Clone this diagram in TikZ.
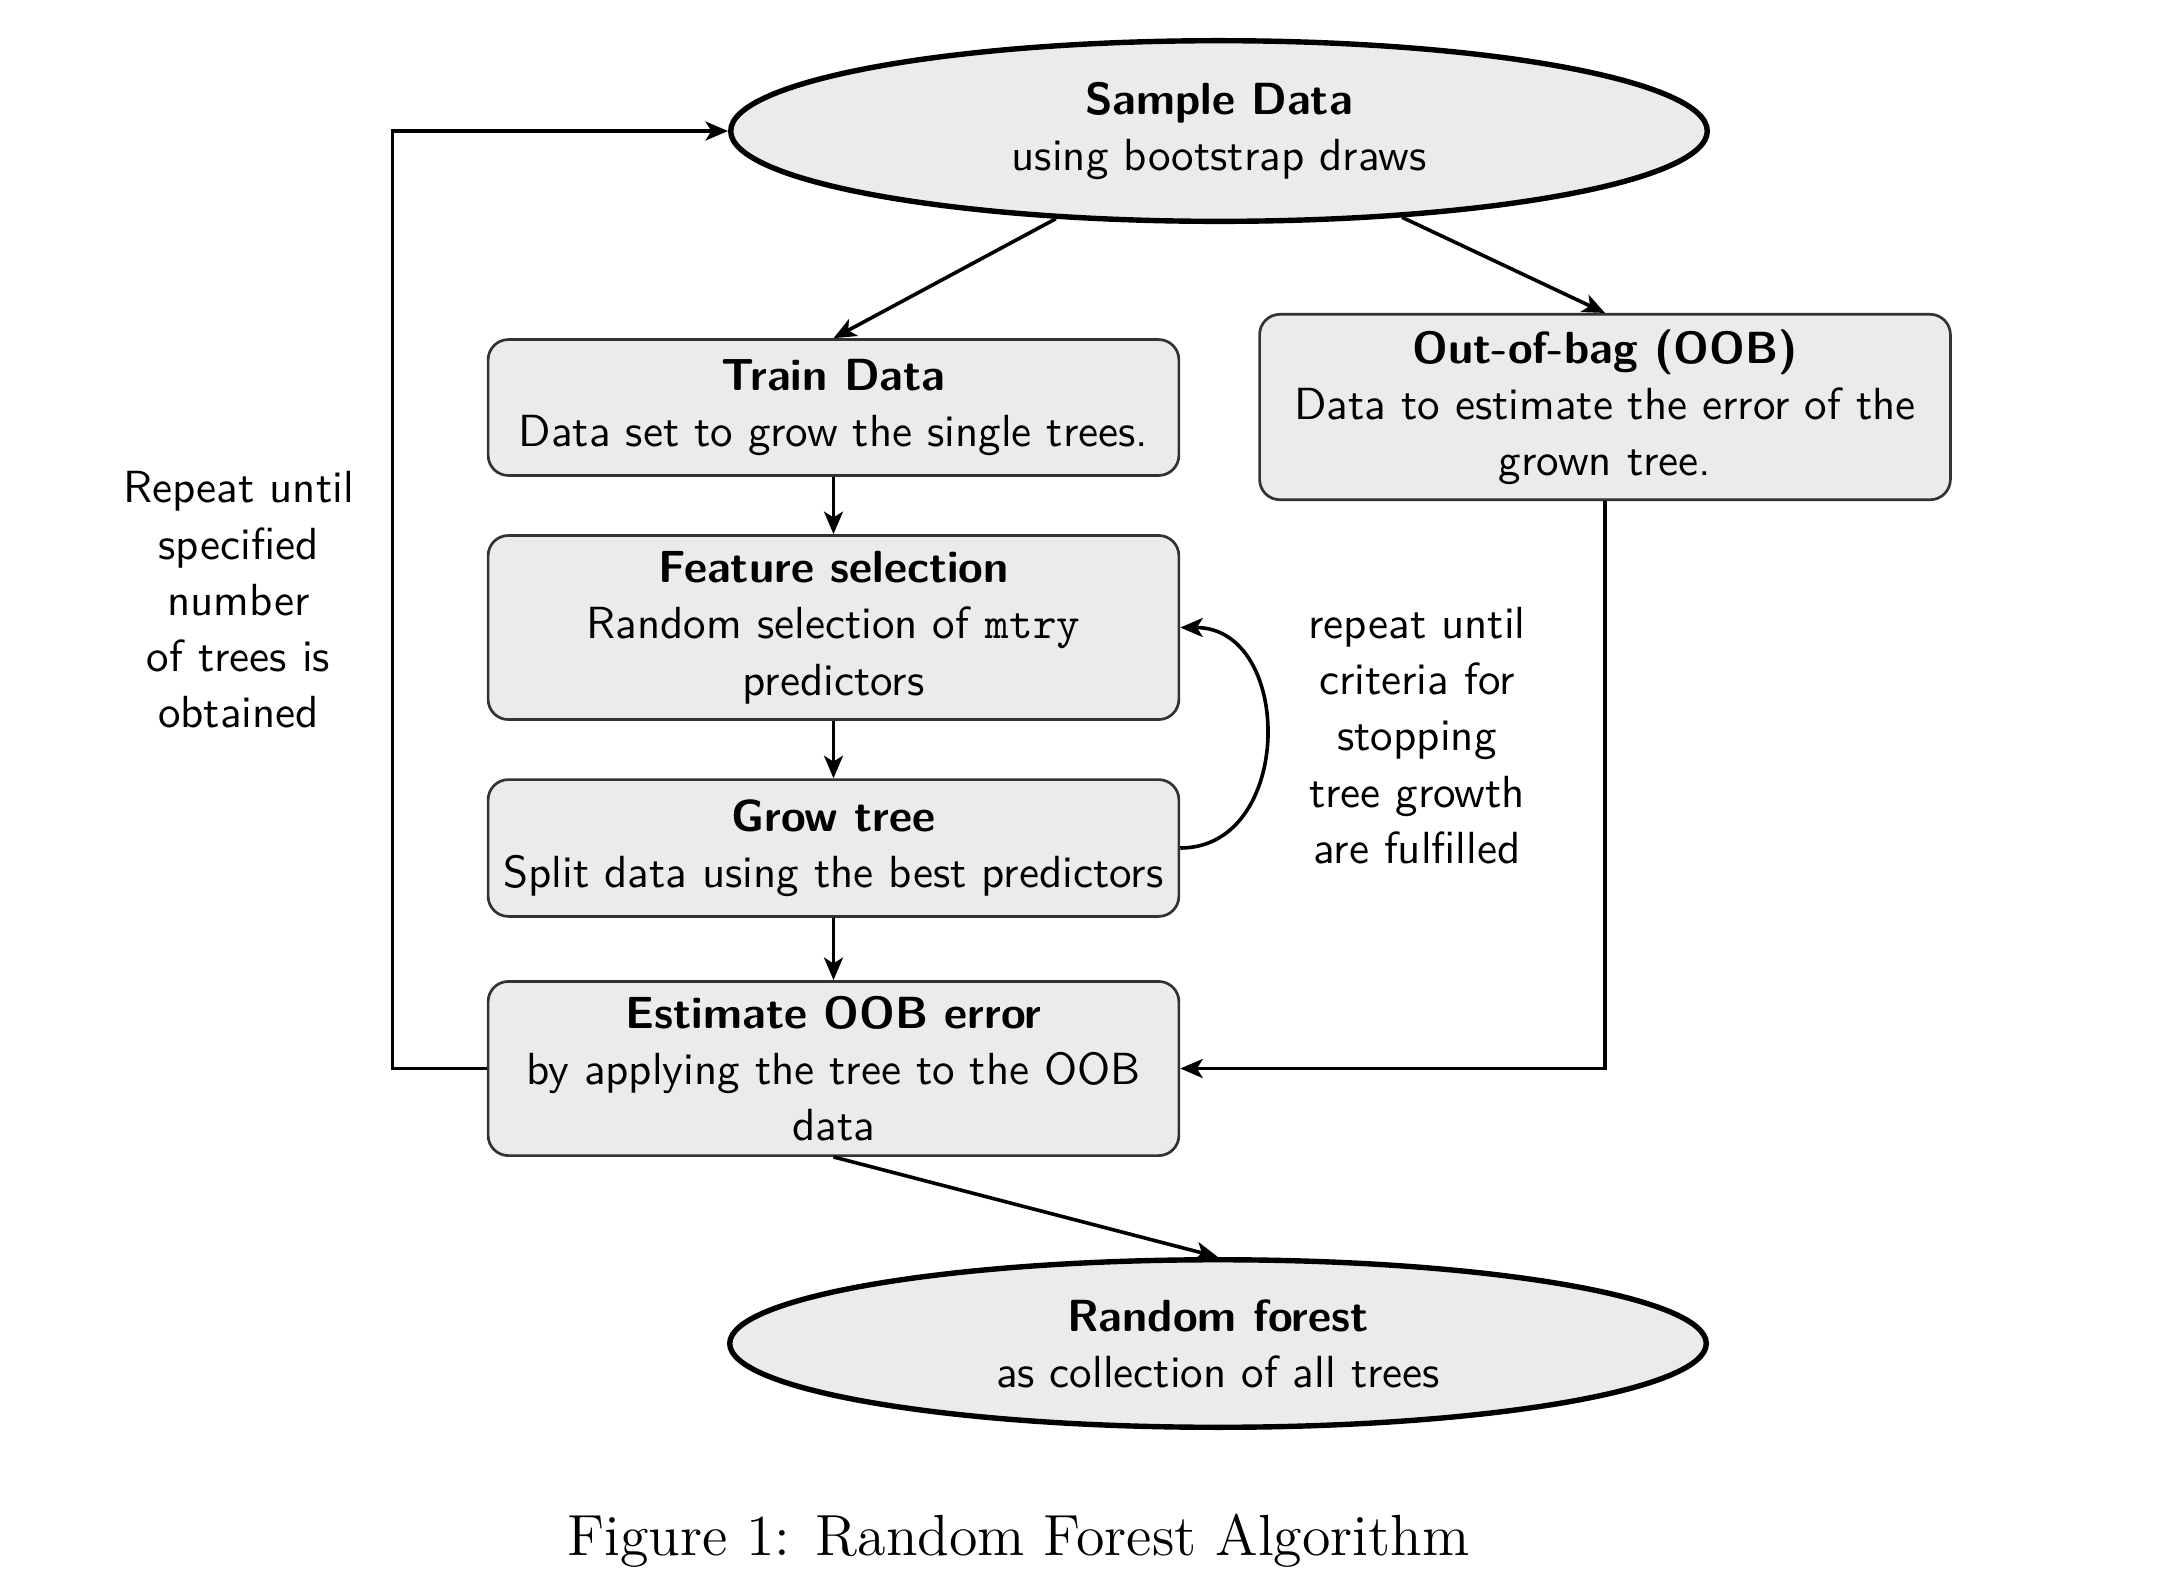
\documentclass[tikz,border=0pt]{standalone}
\usetikzlibrary{shapes.geometric,arrows.meta}
\begin{document}
\begin{tikzpicture}[x={(0.22222pt,0)},y={(0,-0.22222pt)},
  txt/.style={font={\sffamily\fontsize{10}{12.5}\selectfont},align=center},
  ellnode/.style={txt,ellipse,draw=black,very thick,fill=black!8,minimum width=217pt},
  boxnode/.style={txt,rectangle,rounded corners=4.5pt,draw=black!80,semithick,fill=black!8,
    minimum width=153.5pt,inner xsep=2pt,inner ysep=2pt},
  arr/.style={thick,-{Stealth[length=5pt,width=4.2pt,inset=1.3pt]}}]
\useasboundingbox (0,0) rectangle (2160,1587);
\node[ellnode] (sample) at (1219,131) {\textbf{Sample Data}\\using bootstrap draws};
\node[boxnode,minimum height=30.2pt] (train) at (833.5,407.5) {\textbf{Train Data}\\Data set to grow the single trees.};
\node[boxnode,minimum height=41.2pt] (oob) at (1605,407) {\textbf{Out-of-bag (OOB)}\\Data to estimate the error of the\\grown tree.};
\node[boxnode,minimum height=40.9pt] (feat) at (833.5,627.5) {\textbf{Feature selection}\\Random selection of \texttt{mtry}\\predictors};
\node[boxnode,minimum height=30.4pt] (grow) at (833.5,848) {\textbf{Grow tree}\\Split data using the best predictors};
\node[boxnode,minimum height=38.7pt] (est) at (833.5,1068.5) {\textbf{Estimate OOB error}\\by applying the tree to the OOB\\data};
\node[ellnode] (forest) at (1218,1343.5) {\textbf{Random forest}\\as collection of all trees};
\node[txt] (ltext) at (238.5,600) {Repeat until\\specified\\number\\of trees is\\obtained};
\node[txt] (rtext) at (1417,735.5) {repeat until\\criteria for\\stopping\\tree growth\\are fulfilled};
\node[anchor=base,font=\fontsize{12.9}{15}\selectfont] (caption) at (1018.5,1555) {Figure 1: Random Forest Algorithm};
\coordinate (lc) at (392.5,1068.5);
\draw[arr] (sample) -- (train.north);
\draw[arr] (sample) -- (oob.north);
\draw[arr] (train) -- (feat);
\draw[arr] (feat) -- (grow);
\draw[arr] (grow) -- (est);
\draw[arr] (grow.east) to[out=0,in=0,looseness=1.33] (feat.east);
\draw[arr] (oob.south) |- (est.east);
\draw[arr] (est.west) -- (lc) |- (sample.west);
\draw[arr] (est.south) -- (forest.north);
\end{tikzpicture}
\end{document}
